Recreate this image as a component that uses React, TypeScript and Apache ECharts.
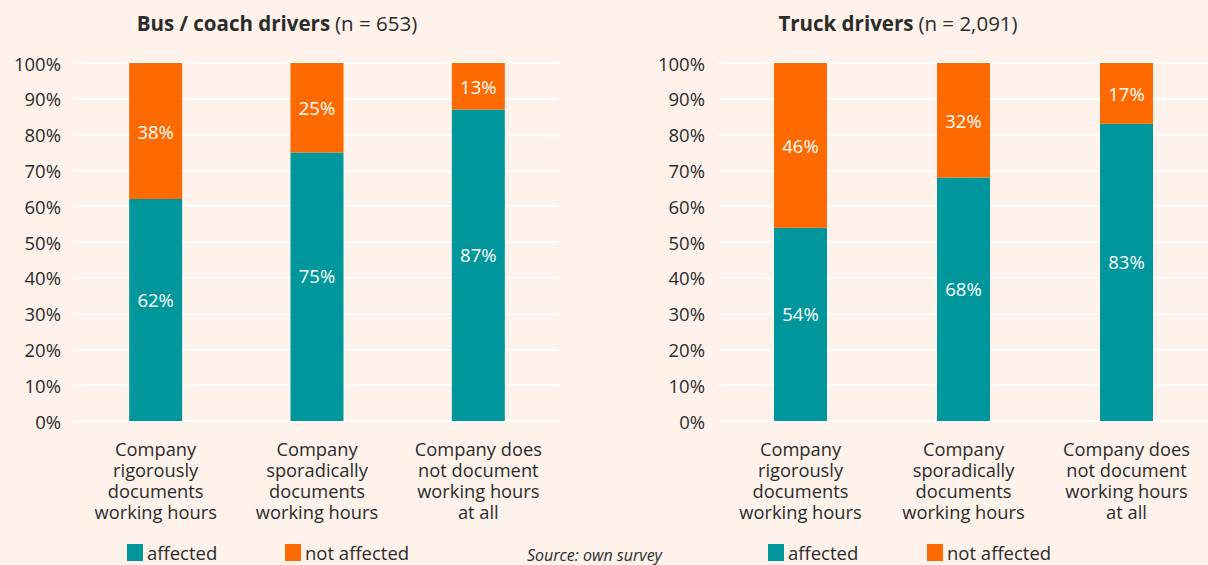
import React, { useEffect, useRef } from "react";
import * as echarts from "echarts";

const categories = [
  "Company\nrigorously\ndocuments\nworking hours",
  "Company\nsporadically\ndocuments\nworking hours",
  "Company does\nnot document\nworking hours\nat all",
];
const busAffected = [62, 75, 87];
const busNotAffected = [38, 25, 13];
const truckAffected = [54, 68, 83];
const truckNotAffected = [46, 32, 17];
const yTicks = [0, 10, 20, 30, 40, 50, 60, 70, 80, 90, 100];

const TEAL = "#00979C";
const ORANGE = "#FF6A00";
const TEXT = "#2b2b2b";
const FONT = "'Open Sans', sans-serif";

export default function App() {
  const ref = useRef<HTMLDivElement>(null);
  useEffect(() => {
    const chart = echarts.init(ref.current!, null, { renderer: "svg" });
    const xAxisBase = (gridIndex: number) => ({
      type: "category" as const,
      gridIndex,
      data: categories,
      axisLine: { show: false },
      axisTick: { show: false },
      axisLabel: {
        color: TEXT,
        fontFamily: FONT,
        fontSize: 18.3,
        lineHeight: 21,
        margin: 17,
        interval: 0,
      },
    });
    const yAxisBase = (gridIndex: number) => ({
      type: "value" as const,
      gridIndex,
      min: yTicks[0],
      max: yTicks[yTicks.length - 1],
      interval: 10,
      axisLine: { show: false },
      axisTick: { show: false },
      splitLine: { lineStyle: { color: "#ffffff", width: 2 } },
      axisLabel: {
        color: TEXT,
        fontFamily: FONT,
        fontSize: 18.5,
        margin: 14,
        formatter: "{value}%",
      },
    });
    const label = (dy: number) => ({
      show: true,
      position: "inside" as const,
      color: "#ffffff",
      fontFamily: FONT,
      fontSize: 18.5,
      offset: [0, dy],
      formatter: "{c}%",
    });
    const mk = (name: string, data: number[], color: string, idx: number, dy: number) => ({
      name,
      type: "bar" as const,
      stack: "s" + idx,
      xAxisIndex: idx,
      yAxisIndex: idx,
      data,
      barWidth: 53,
      itemStyle: { color },
      label: label(dy),
    });
    const legendItem = (name: string, left: number) => ({
      data: [name],
      left,
      top: 543,
      padding: 0,
      itemWidth: 16,
      itemHeight: 17,
      itemGap: 0,
      icon: "rect",
      selectedMode: false,
      textStyle: { color: TEXT, fontFamily: FONT, fontSize: 18.5, lineHeight: 17, padding: [0, 0, 0, -1] },
    });
    const titleRich = {
      b: { fontFamily: FONT, fontSize: 20.5, fontWeight: "bold", color: TEXT },
      n: { fontFamily: FONT, fontSize: 20.5, fontWeight: "normal", color: TEXT },
    };
    chart.setOption({
      animation: false,
      backgroundColor: "#FEF2EB",
      title: [
        {
          text: "{b|Bus / coach drivers} {n|(n = 653)}",
          left: 272,
          top: 7,
          textAlign: "center",
          textStyle: { fontWeight: "normal", rich: titleRich },
        },
        {
          text: "{b|Truck drivers} {n|(n = 2,091)}",
          left: 893,
          top: 7,
          textAlign: "center",
          textStyle: { fontWeight: "normal", rich: titleRich },
        },
        {
          text: "Source: own survey",
          left: 527,
          top: 547,
          padding: 0,
          textStyle: { fontFamily: FONT, fontSize: 16, lineHeight: 16, fontStyle: "italic", fontWeight: "normal", color: TEXT },
        },
      ],
      legend: [
        legendItem("affected", 127),
        legendItem("not affected", 285),
        legendItem("affected", 768),
        legendItem("not affected", 927),
      ],
      grid: [
        { left: 75, top: 63, width: 484, height: 358 },
        { left: 719, top: 63, right: -6, height: 358 },
      ],
      xAxis: [xAxisBase(0), xAxisBase(1)],
      yAxis: [yAxisBase(0), yAxisBase(1)],
      series: [
        mk("affected", busAffected, TEAL, 0, -11),
        mk("not affected", busNotAffected, ORANGE, 0, 0),
        mk("affected", truckAffected, TEAL, 1, -11),
        mk("not affected", truckNotAffected, ORANGE, 1, 0),
      ],
    });
    return () => chart.dispose();
  }, []);
  return <div ref={ref} style={{ width: 1208, height: 565, position: "absolute", left: 0, top: 0 }} />;
}
